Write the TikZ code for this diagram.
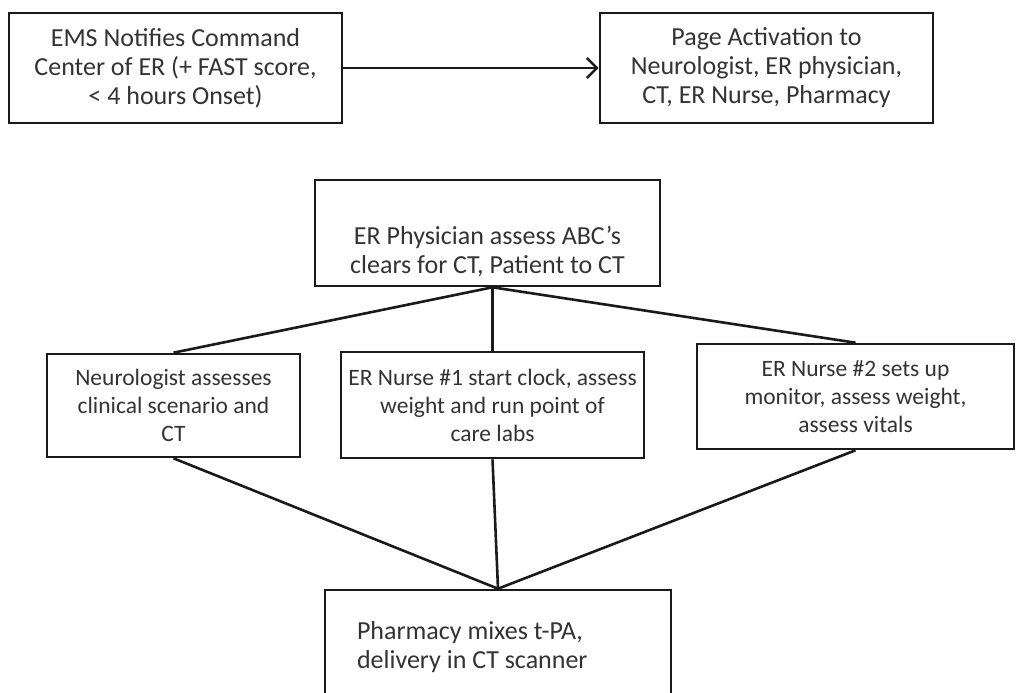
\documentclass[tikz,border=0pt]{standalone}
\usepackage{fontspec}
\setmainfont{Carlito}
\usetikzlibrary{arrows.meta}
\definecolor{boxline}{HTML}{1A1A1A}
\definecolor{boxtext}{HTML}{333333}
\tikzset{
    block/.style = {draw=boxline, line width=2.6pt, rectangle,
        inner sep=0pt, align=center, text=boxtext,
        font=\fontsize{26}{29}\selectfont},
    task/.style = {block, font=\fontsize{23.5}{28}\selectfont},
    link/.style = {draw=boxline, line width=2.6pt},
    arrow/.style = {link, -{Straight Barb[length=10pt,width=20pt,line width=2.6pt]}}
}

\begin{document}
\begin{tikzpicture}[x=1pt, y=-1pt]
    \useasboundingbox (0,0) rectangle (1017,693);
    \clip (0,0) rectangle (1017,693);
    % top row
    \node [block, minimum width=333, minimum height=110] (ems) at (175.5,68)
        {EMS Notifies Command\\Center of ER (+ FAST score,\\< 4 hours Onset)};
    \node [block, minimum width=333, minimum height=110] (page) at (766.5,68)
        {Page Activation to\\Neurologist, ER physician,\\CT, ER Nurse, Pharmacy};
    \draw [arrow] (ems) -- (page);
    % physician
    \node [block, minimum width=345, minimum height=106, text height=85pt] (phys) at (487.5,233)
        {ER Physician assess ABC’s\\clears for CT, Patient to CT};
    % three parallel tasks
    \node [task, minimum width=253, minimum height=103] (neuro) at (173.5,405.5)
        {Neurologist assesses\\clinical scenario and\\CT};
    \node [task, minimum width=303, minimum height=106] (nurseone) at (492.5,405)
        {ER Nurse \#1 start clock, assess\\weight and run point of\\care labs};
    \node [task, minimum width=317, minimum height=105] (nursetwo) at (855.5,396.5)
        {ER Nurse \#2 sets up\\monitor, assess weight,\\assess vitals};
    % pharmacy
    \node [block, minimum width=346, minimum height=115, text width=282, inner xsep=32pt, align=flush left] (pharm) at (498,647.5)
        {Pharmacy mixes t-PA,\\delivery in CT scanner};
    \coordinate (fork) at (phys.south -| nurseone.north);
    \draw [link] (fork) -- (neuro.north);
    \draw [link] (fork) -- (nurseone.north);
    \draw [link] (fork) -- (nursetwo.north);
    \draw [link] (neuro.south) -- (pharm.north);
    \draw [link] (nurseone.south) -- (pharm.north);
    \draw [link] (nursetwo.south) -- (pharm.north);
\end{tikzpicture}
\end{document}
